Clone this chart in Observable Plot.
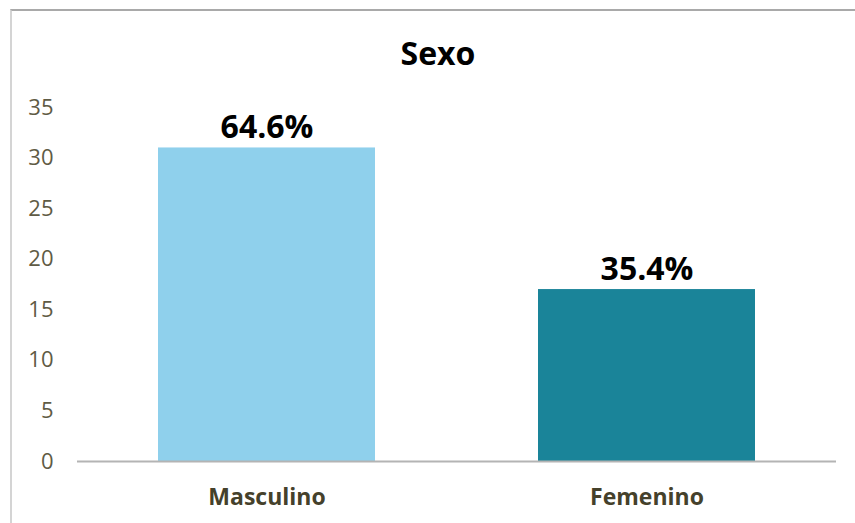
<!DOCTYPE html>
<html>
<head>
<meta charset="utf-8">
<script src="https://cdn.jsdelivr.net/npm/d3@7"></script>
<script src="https://cdn.jsdelivr.net/npm/@observablehq/plot@0.6"></script>
<style>
  html, body { margin: 0; padding: 0; background: #ffffff; }
  #wrap { position: relative; width: 855px; height: 523px; overflow: hidden; }
  #frame { position: absolute; left: 10px; top: 9px; width: 860px; height: 530px;
           border-top: 2px solid #a9a9a9; border-left: 2px solid #d4d4d4; box-sizing: border-box; }
  #chart { position: absolute; left: 0; top: 0; }
  svg { font-family: "Open Sans", sans-serif; }
</style>
</head>
<body>
<div id="wrap"><div id="frame"></div><div id="chart"></div></div>
<script>
const title = "Sexo";
const categories = ["Masculino", "Femenino"];
const values = [31, 17];
const labels = ["64.6%", "35.4%"];
const colors = ["#8fd0ec", "#1a8499"];
const yTicks = [0, 5, 10, 15, 20, 25, 30, 35];

const data = categories.map((c, i) => ({cat: c, value: values[i], label: labels[i], color: colors[i]}));

const chart = Plot.plot({
  width: 855,
  height: 523,
  marginLeft: 77,
  marginRight: 19,
  marginTop: 107,
  marginBottom: 62,
  style: {background: "transparent", fontFamily: "'Open Sans', sans-serif"},
  x: {domain: categories, paddingInner: 0.429, paddingOuter: 0.213, axis: null},
  y: {domain: [0, 35], axis: null},
  marks: [
    Plot.barY(data, {x: "cat", y: "value", fill: "color"}),
    Plot.ruleY([0], {stroke: "#b4b4b4", strokeWidth: 2}),
    Plot.text(yTicks, {y: d => d, frameAnchor: "left", dx: -24, textAnchor: "end",
      lineAnchor: "middle", fill: "#5f5b45", fontSize: 22}),
    Plot.text(data, {x: "cat", frameAnchor: "bottom", dy: 36, text: "cat", lineAnchor: "middle",
      fill: "#45412b", fontSize: 23, fontWeight: "bold"}),
    Plot.text(data, {x: "cat", y: "value", text: "label", dy: -10, lineAnchor: "bottom",
      fill: "#000000", fontSize: 32, fontWeight: "bold", letterSpacing: 2.5}),
    Plot.text([title], {frameAnchor: "top", dx: -19, dy: -53, text: d => d, lineAnchor: "middle",
      fill: "#000000", fontSize: 32, fontWeight: "bold"})
  ]
});
document.getElementById("chart").appendChild(chart);
</script>
</body>
</html>
